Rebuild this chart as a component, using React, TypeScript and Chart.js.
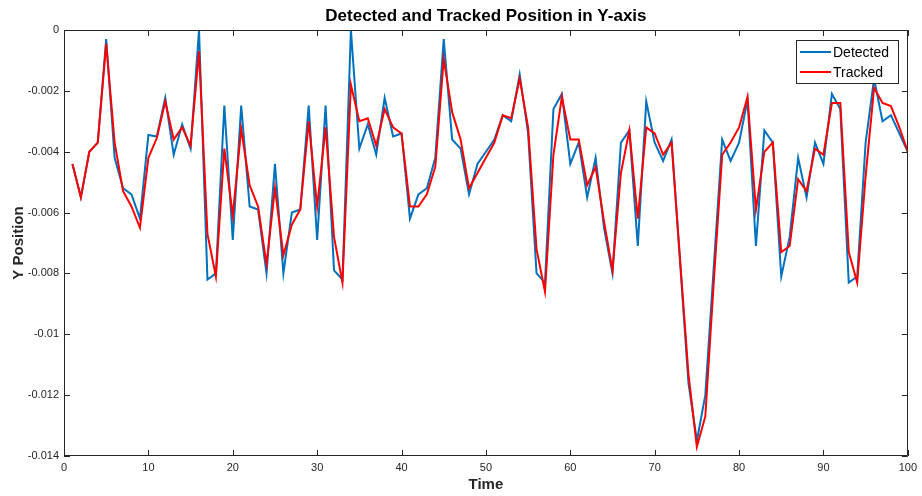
import React, { useEffect, useRef } from 'react';
import { Chart, registerables } from 'chart.js';

Chart.register(...registerables);

const chartTitle = 'Detected and Tracked Position in Y-axis';
const xTitle = 'Time';
const yTitle = 'Y Position';
const seriesNames = ['Detected', 'Tracked'];

const time = [
  1, 2, 3, 4, 5, 6, 7, 8, 9, 10,
  11, 12, 13, 14, 15, 16, 17, 18, 19, 20,
  21, 22, 23, 24, 25, 26, 27, 28, 29, 30,
  31, 32, 33, 34, 35, 36, 37, 38, 39, 40,
  41, 42, 43, 44, 45, 46, 47, 48, 49, 50,
  51, 52, 53, 54, 55, 56, 57, 58, 59, 60,
  61, 62, 63, 64, 65, 66, 67, 68, 69, 70,
  71, 72, 73, 74, 75, 76, 77, 78, 79, 80,
  81, 82, 83, 84, 85, 86, 87, 88, 89, 90,
  91, 92, 93, 94, 95, 96, 97, 98, 99, 100,
];

const detected = [
  -0.0044, -0.0055, -0.0040, -0.0037, -0.0003, -0.0042, -0.0052, -0.0054, -0.0062, -0.00345,
  -0.0035, -0.00223, -0.0041, -0.0031, -0.0039, 0.0, -0.0082, -0.0080, -0.00248, -0.0069,
  -0.00248, -0.0058, -0.0059, -0.0080, -0.0044, -0.0080, -0.0060, -0.0059, -0.00248, -0.0069,
  -0.00248, -0.0079, -0.0082, 0.0, -0.0039, -0.0031, -0.0041, -0.00223, -0.0035, -0.0034,
  -0.0062, -0.0054, -0.0052, -0.0042, -0.0003, -0.0036, -0.0039, -0.0054, -0.0044, -0.0040,
  -0.0036, -0.0028, -0.0030, -0.00146, -0.0034, -0.0080, -0.0083, -0.0026, -0.0021, -0.0044,
  -0.0037, -0.0055, -0.0042, -0.0065, -0.0080, -0.0037, -0.0033, -0.0071, -0.00235, -0.0037,
  -0.0043, -0.0036, -0.0076, -0.0116, -0.0135, -0.0120, -0.0078, -0.0036, -0.0043, -0.0037,
  -0.0023, -0.0071, -0.0033, -0.0037, -0.0081, -0.0068, -0.0042, -0.0055, -0.0037, -0.0044,
  -0.0021, -0.0026, -0.0083, -0.0081, -0.0037, -0.0016, -0.0030, -0.0028, -0.0034, -0.0040,
];

const tracked = [
  -0.0044, -0.0055, -0.0040, -0.0037, -0.00045, -0.0037, -0.0053, -0.0058, -0.0065, -0.0042,
  -0.00355, -0.00235, -0.0036, -0.0032, -0.0038, -0.0007, -0.0067, -0.0081, -0.0039, -0.0061,
  -0.00325, -0.0051, -0.0058, -0.0077, -0.0052, -0.0074, -0.0064, -0.0059, -0.0030, -0.0058,
  -0.0032, -0.0068, -0.0083, -0.0018, -0.0030, -0.0029, -0.0038, -0.0026, -0.0032, -0.0034,
  -0.0058, -0.0058, -0.0054, -0.0045, -0.00095, -0.0027, -0.0036, -0.0052, -0.0047, -0.0042,
  -0.0037, -0.0028, -0.0029, -0.0016, -0.0032, -0.0072, -0.0086, -0.0041, -0.0022, -0.0036,
  -0.0036, -0.0051, -0.0045, -0.0063, -0.0079, -0.0047, -0.0033, -0.0062, -0.0032, -0.0034,
  -0.0041, -0.0037, -0.0075, -0.0113, -0.0137, -0.0127, -0.0083, -0.0041, -0.0037, -0.0032,
  -0.0022, -0.0059, -0.0040, -0.0037, -0.0073, -0.0071, -0.0049, -0.0053, -0.0039, -0.0041,
  -0.0024, -0.0024, -0.0073, -0.0083, -0.0048, -0.0019, -0.0024, -0.0025, -0.0032, -0.0040,
];

const xTicks = [0, 10, 20, 30, 40, 50, 60, 70, 80, 90, 100];
const xTickLabels = ['0', '10', '20', '30', '40', '50', '60', '70', '80', '90', '100'];
const yTicks = [0, -0.002, -0.004, -0.006, -0.008, -0.01, -0.012, -0.014];
const yTickLabels = ['0', '-0.002', '-0.004', '-0.006', '-0.008', '-0.01', '-0.012', '-0.014'];

const COLORS = ['#0072BD', '#FF0000'];
const AXIS = '#262626';
const FONT = "'Liberation Sans', Arial, Helvetica, sans-serif";

const framePlugin = {
  id: 'matlabFrame',
  afterDraw(chart: any) {
    const { ctx, chartArea, scales } = chart;
    const { left, right, top, bottom } = chartArea;
    const xs = scales.x;
    const ys = scales.y;
    ctx.save();
    ctx.strokeStyle = AXIS;
    ctx.lineWidth = 1;
    ctx.beginPath();
    ctx.rect(Math.round(left) + 0.5, Math.round(top) + 0.5, Math.round(right - left) - 1, Math.round(bottom - top) - 1);
    ctx.stroke();
    const tl = 6;
    ctx.beginPath();
    xTicks.forEach((v) => {
      const px = Math.round(xs.getPixelForValue(v)) + 0.5;
      ctx.moveTo(px, bottom);
      ctx.lineTo(px, bottom - tl);
      ctx.moveTo(px, top);
      ctx.lineTo(px, top + tl);
    });
    yTicks.forEach((v) => {
      const py = Math.round(ys.getPixelForValue(v)) + 0.5;
      ctx.moveTo(left, py);
      ctx.lineTo(left + tl, py);
      ctx.moveTo(right, py);
      ctx.lineTo(right - tl, py);
    });
    ctx.stroke();

    // legend box
    const bw = 102;
    const bh = 43;
    const bx = Math.round(right) - 10 - bw;
    const by = Math.round(top) + 10;
    ctx.fillStyle = '#ffffff';
    ctx.fillRect(bx, by, bw, bh);
    ctx.strokeStyle = AXIS;
    ctx.strokeRect(bx + 0.5, by + 0.5, bw, bh);
    ctx.font = `14px ${FONT}`;
    ctx.textBaseline = 'middle';
    ctx.textAlign = 'left';
    seriesNames.forEach((name, i) => {
      const cy = by + 12 + i * 20;
      ctx.strokeStyle = COLORS[i];
      ctx.lineWidth = 2;
      ctx.beginPath();
      ctx.moveTo(bx + 4, cy);
      ctx.lineTo(bx + 35, cy);
      ctx.stroke();
      ctx.fillStyle = '#000000';
      ctx.fillText(name, bx + 37, cy + 1);
    });
    ctx.restore();
  },
};

export default function App() {
  const ref = useRef<HTMLCanvasElement | null>(null);

  useEffect(() => {
    document.body.style.margin = '0';
    const canvas = ref.current;
    if (!canvas) return;
    const chart = new Chart(canvas, {
      type: 'line',
      data: {
        datasets: [
          {
            label: seriesNames[0],
            data: time.map((t, i) => ({ x: t, y: detected[i] })),
            borderColor: COLORS[0],
            backgroundColor: COLORS[0],
            borderWidth: 2,
            pointRadius: 0,
            tension: 0,
            order: 2,
          },
          {
            label: seriesNames[1],
            data: time.map((t, i) => ({ x: t, y: tracked[i] })),
            borderColor: COLORS[1],
            backgroundColor: COLORS[1],
            borderWidth: 2,
            pointRadius: 0,
            tension: 0,
            order: 1,
          },
        ],
      },
      options: {
        animation: false,
        responsive: false,
        maintainAspectRatio: false,
        devicePixelRatio: 1,
        layout: { padding: { left: 0, right: 10, top: 0, bottom: 0 } },
        plugins: {
          legend: { display: false },
          tooltip: { enabled: false },
          title: {
            display: true,
            text: chartTitle,
            fullSize: false,
            color: '#000000',
            font: { family: FONT, size: 17, weight: 'bold', lineHeight: 1.2 },
            padding: { top: 6.5, bottom: 3.1 },
          },
        },
        scales: {
          x: {
            type: 'linear',
            min: 0,
            max: 100,
            afterBuildTicks: (scale: any) => {
              scale.ticks = xTicks.map((v) => ({ value: v }));
            },
            afterFit: (scale: any) => {
              scale.height = 40;
            },
            grid: { display: false, drawTicks: false },
            border: { display: false },
            ticks: {
              color: AXIS,
              font: { family: FONT, size: 11 },
              padding: 5,
              maxRotation: 0,
              autoSkip: false,
              callback: (_v: any, i: number) => xTickLabels[i],
            },
            title: {
              display: true,
              text: xTitle,
              color: AXIS,
              font: { family: FONT, size: 15, weight: 'bold', lineHeight: 1.2 },
              padding: { top: 0, bottom: 2 },
            },
          },
          y: {
            type: 'linear',
            min: -0.014,
            max: 0,
            afterBuildTicks: (scale: any) => {
              scale.ticks = yTicks.map((v) => ({ value: v }));
            },
            afterFit: (scale: any) => {
              scale.width = 64;
            },
            grid: { display: false, drawTicks: false },
            border: { display: false },
            ticks: {
              color: AXIS,
              font: { family: FONT, size: 11 },
              padding: 5,
              autoSkip: false,
              callback: (_v: any, i: number) => yTickLabels[i],
            },
            title: {
              display: true,
              text: yTitle,
              color: AXIS,
              font: { family: FONT, size: 15, weight: 'bold', lineHeight: 1.2 },
              padding: { top: 10, bottom: 0 },
            },
          },
        },
      },
      plugins: [framePlugin],
    });
    return () => chart.destroy();
  }, []);

  return (
    <div style={{ width: 922, height: 496, background: '#ffffff' }}>
      <canvas ref={ref} width={922} height={496} style={{ display: 'block', width: 922, height: 496 }} />
    </div>
  );
}
